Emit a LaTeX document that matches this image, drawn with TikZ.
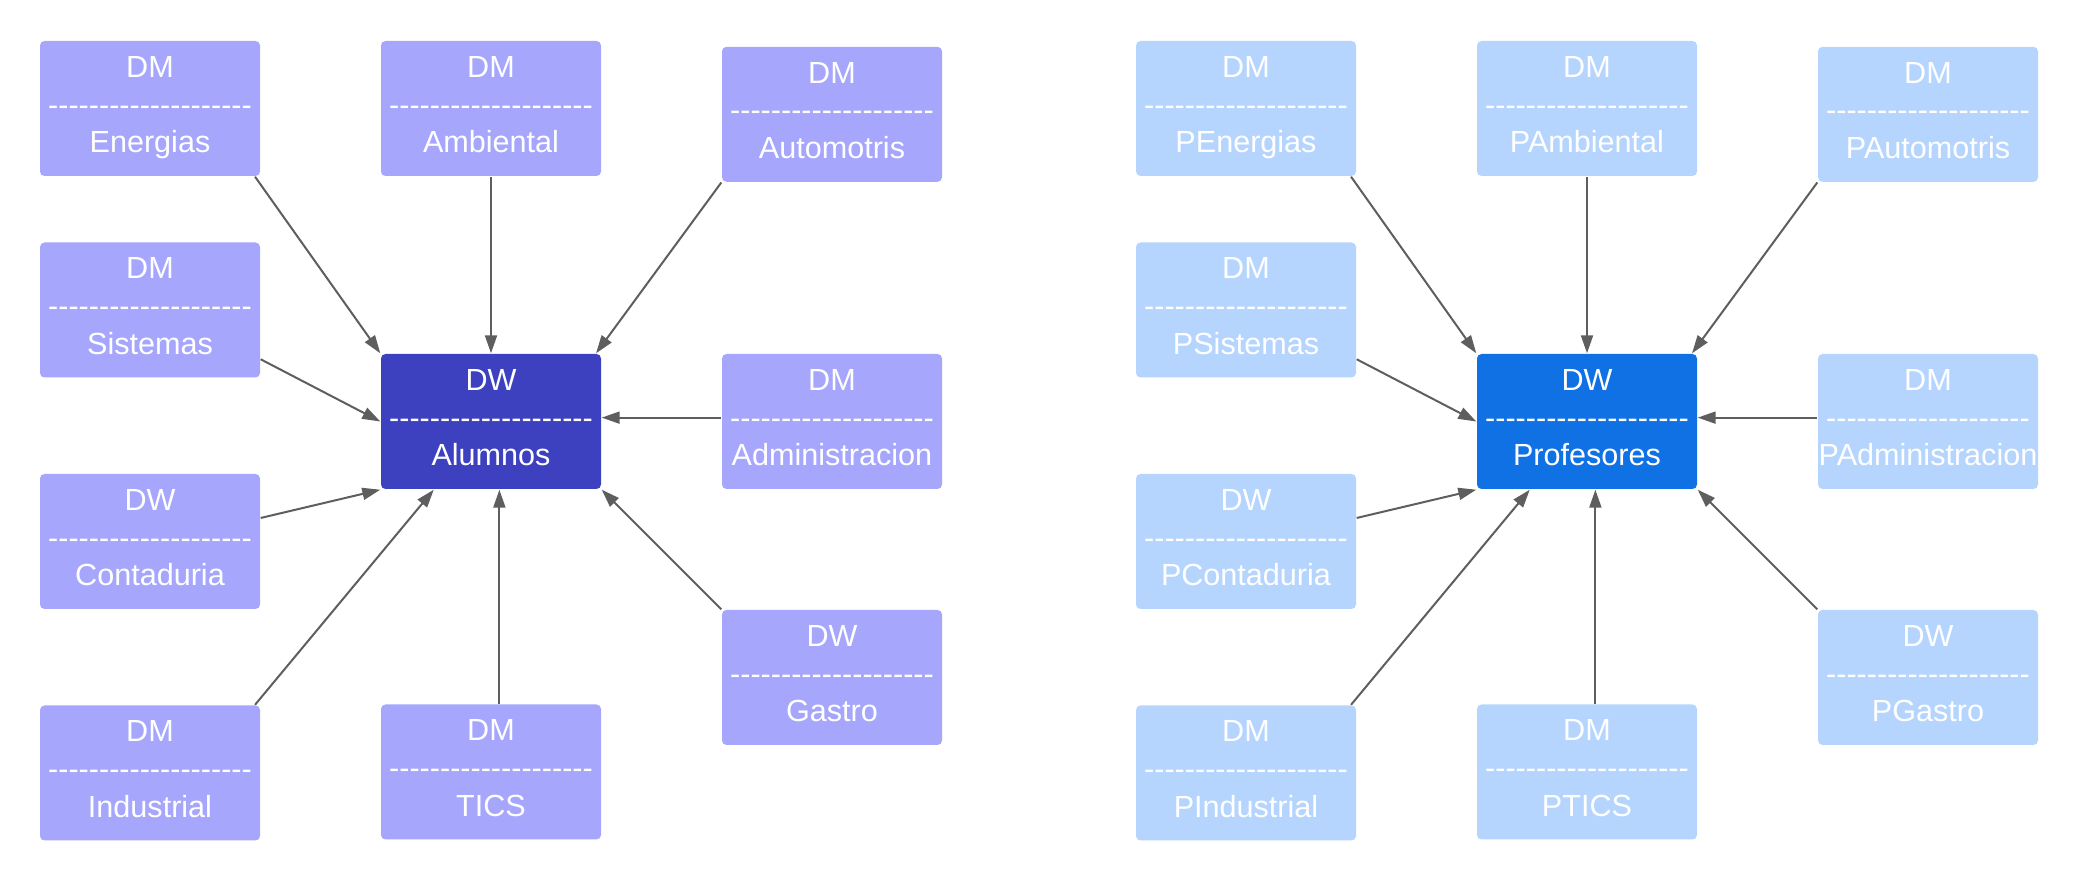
\documentclass[tikz,border=0pt]{standalone}
\usepackage{fontspec}
\setmainfont{Liberation Sans}
\usetikzlibrary{arrows.meta}

\definecolor{martlight}{HTML}{A6A6FD}
\definecolor{martdark}{HTML}{3D41BF}
\definecolor{proflight}{HTML}{B5D5FE}
\definecolor{profdark}{HTML}{1071E5}
\definecolor{linkgray}{HTML}{5E5E5E}

% row of single hyphens (kern keeps them from joining)
\newcommand{\dashrow}{\foreach \i in {1,...,20}{-\kern0pt}}

\begin{document}
\begin{tikzpicture}
            [table/.style={rectangle, rounded corners=0.045cm, inner sep=0pt,
                           minimum width=2.2cm, minimum height=1.35cm, text=white,
                           align=center, font=\fontsize{8.7}{10.7}\selectfont,
                           text height=0.984cm, text depth=0.1cm},
             mart/.style={table, fill=martlight},
             wh/.style={table, fill=martdark},
             pmart/.style={table, fill=proflight},
             pwh/.style={table, fill=profdark},
             every edge/.style={draw=linkgray, line width=0.02cm},
             >={Triangle[length=0.18cm, width=0.12cm]}]
            \useasboundingbox (0,0) rectangle (20.80,-8.81);

            % alumnos
            \node[wh] (al) at (4.91,-4.215) {DW\\\dashrow\\Alumnos};
            \node[mart] (en) at (1.50,-1.085) {DM\\\dashrow\\Energias};
            \node[mart] (am) at (4.91,-1.085) {DM\\\dashrow\\Ambiental};
            \node[mart] (au) at (8.32,-1.143) {DM\\\dashrow\\Automotris};
            \node[mart] (si) at (1.50,-3.10) {DM\\\dashrow\\Sistemas};
            \node[mart] (ad) at (8.32,-4.215) {DM\\\dashrow\\Administracion};
            \node[mart] (co) at (1.50,-5.415) {DW\\\dashrow\\Contaduria};
            \node[mart] (ga) at (8.32,-6.775) {DW\\\dashrow\\Gastro};
            \node[mart] (ind) at (1.50,-7.73) {DM\\\dashrow\\Industrial};
            \node[mart] (ti) at (4.91,-7.72) {DM\\\dashrow\\TICS};

            \path [->] (en.-33) edge (al.north west);
            \path [->] (am.south) edge (al.north);
            \path [->] (au.south west) edge (al.33);
            \path [->] (si.-24) edge (al.west);
            \path [->] (ad.178) edge (al.2);
            \path [->] (co.12) edge (al.south west);
            \path [->] (ind.33) edge (al.230);
            \path [->] (ti.83) edge (al.277);
            \path [->] (ga.north west) edge (al.south east);

            % profesores
            \node[pwh] (pr) at (15.87,-4.215) {DW\\\dashrow\\Profesores};
            \node[pmart] (pen) at (12.46,-1.085) {DM\\\dashrow\\PEnergias};
            \node[pmart] (pam) at (15.87,-1.085) {DM\\\dashrow\\PAmbiental};
            \node[pmart] (pau) at (19.28,-1.143) {DM\\\dashrow\\PAutomotris};
            \node[pmart] (psi) at (12.46,-3.10) {DM\\\dashrow\\PSistemas};
            \node[pmart] (pad) at (19.28,-4.215) {DM\\\dashrow\\PAdministracion};
            \node[pmart] (pco) at (12.46,-5.415) {DW\\\dashrow\\PContaduria};
            \node[pmart] (pga) at (19.28,-6.775) {DW\\\dashrow\\PGastro};
            \node[pmart] (pind) at (12.46,-7.73) {DM\\\dashrow\\PIndustrial};
            \node[pmart] (pti) at (15.87,-7.72) {DM\\\dashrow\\PTICS};

            \path [->] (pen.-33) edge (pr.north west);
            \path [->] (pam.south) edge (pr.north);
            \path [->] (pau.south west) edge (pr.33);
            \path [->] (psi.-24) edge (pr.west);
            \path [->] (pad.178) edge (pr.2);
            \path [->] (pco.12) edge (pr.south west);
            \path [->] (pind.33) edge (pr.230);
            \path [->] (pti.83) edge (pr.277);
            \path [->] (pga.north west) edge (pr.south east);
        \end{tikzpicture}
\end{document}
